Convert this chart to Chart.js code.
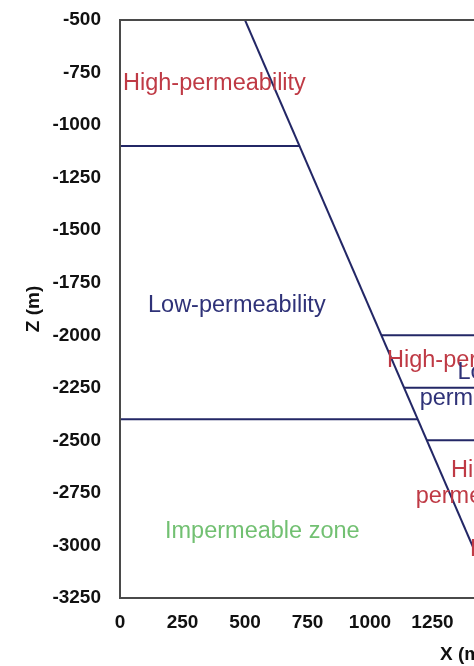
<!DOCTYPE html>
<html>
<head>
<meta charset="utf-8">
<script src="https://cdn.jsdelivr.net/npm/chart.js@4.4.1/dist/chart.umd.min.js"></script>
<style>
  html, body { margin: 0; padding: 0; background: #fff; overflow: hidden; }
  #wrap { width: 830px; height: 666px; }
</style>
</head>
<body>
<div id="wrap"><canvas id="chart" width="830" height="666"></canvas></div>
<script>
  // axis ranges (m)
  const X_MIN = 0, X_MAX = 2750, X_STEP = 250;
  const Z_MIN = -3250, Z_MAX = -500, Z_STEP = 250;

  // fault and layer boundaries, each as [x, z] end points
  const FAULT = [[500, -500], [1500, -3250]];
  const BOUNDARIES = [
    [[0, -1100], [718, -1100]],
    [[0, -2400], [1191, -2400]],
    [[1045, -2000], [2750, -2000]],
    [[1136, -2250], [2750, -2250]],
    [[1227, -2500], [2750, -2500]],
  ];

  // zone labels: text lines, anchor x, z of first line, align, colour key
  const LABEL_TEXT = [
    ["High-permeability"],
    ["Low-permeability"],
    ["Impermeable zone"],
    ["High-permeability"],
    ["Low-", "permeability"],
    ["High-", "permeability"],
    ["High-permeability"],
  ];
  const LABEL_X = [12, 112, 180, 1068, 1452, 1436, 1400];
  const LABEL_Z = [-800, -1857, -2933, -2119, -2176, -2643, -3020];
  const LABEL_ALIGN = ["left", "left", "left", "left", "center", "center", "left"];
  const LABEL_KIND = ["high", "low", "imp", "high", "low", "high", "high"];

  const COLORS = { high: "#bf3a45", low: "#2f3278", imp: "#72c072", line: "#232766", frame: "#4a4a4a" };
  const FONT = "'Liberation Sans', Arial, sans-serif";

  function seg(points) {
    return points.map((p) => ({ x: p[0], y: p[1] }));
  }

  const datasets = [FAULT].concat(BOUNDARIES).map((pts) => ({
    data: seg(pts),
    showLine: true,
    borderColor: COLORS.line,
    borderWidth: 2,
    pointRadius: 0,
    fill: false,
  }));

  const frameAndLabels = {
    id: "frameAndLabels",
    afterDatasetsDraw(chart) {
      const { ctx, chartArea: a, scales } = chart;
      ctx.save();
      ctx.strokeStyle = COLORS.frame;
      ctx.lineWidth = 2;
      ctx.strokeRect(a.left, a.top, a.right - a.left, a.bottom - a.top);

      ctx.font = "23.5px " + FONT;
      ctx.textBaseline = "middle";
      const lineH = 26;
      LABEL_TEXT.forEach((lines, i) => {
        ctx.fillStyle = COLORS[LABEL_KIND[i]];
        ctx.textAlign = LABEL_ALIGN[i];
        const px = scales.x.getPixelForValue(LABEL_X[i]);
        const py = scales.y.getPixelForValue(LABEL_Z[i]);
        lines.forEach((t, j) => ctx.fillText(t, px, py + j * lineH));
      });
      ctx.restore();
    },
  };

  const tickFont = { family: FONT, size: 19, weight: "bold" };

  new Chart(document.getElementById("chart"), {
    type: "scatter",
    data: { datasets },
    plugins: [frameAndLabels],
    options: {
      responsive: false,
      animation: false,
      layout: { padding: { left: 0, top: 20, right: 22.5, bottom: 0 } },
      plugins: { legend: { display: false }, tooltip: { enabled: false } },
      scales: {
        x: {
          type: "linear",
          min: X_MIN,
          max: X_MAX,
          grid: { display: false, drawTicks: false },
          border: { display: false },
          ticks: {
            stepSize: X_STEP,
            padding: 13,
            color: "#111",
            font: tickFont,
            callback: (v) => String(v),
          },
          title: {
            display: true,
            text: "X (m)",
            color: "#111",
            padding: { top: 0, bottom: 0 },
            font: tickFont,
          },
          afterFit(scale) {
            scale.height = 68;
            scale.paddingLeft = 0;
            scale.paddingRight = 0;
          },
        },
        y: {
          type: "linear",
          min: Z_MIN,
          max: Z_MAX,
          grid: { display: false, drawTicks: false },
          border: { display: false },
          ticks: {
            stepSize: Z_STEP,
            padding: 19,
            color: "#111",
            font: tickFont,
            callback: (v) => String(v),
          },
          title: {
            display: true,
            text: "Z (m)",
            color: "#111",
            padding: { top: 22, bottom: 0 },
            font: tickFont,
          },
          afterFit(scale) {
            scale.width = 120;
            scale.paddingTop = 0;
            scale.paddingBottom = 0;
          },
        },
      },
    },
  });
</script>
</body>
</html>
